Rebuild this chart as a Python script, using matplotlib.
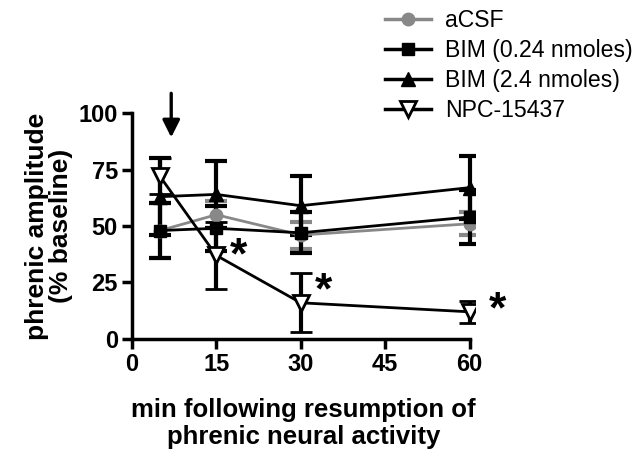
import matplotlib.pyplot as plt
from matplotlib.lines import Line2D

plt.rcParams['font.family'] = ['Liberation Sans', 'DejaVu Sans']

# time points (min)
minutes = [5, 15, 30, 60]

acsf = [48, 55, 46, 51]
acsf_err = [12, 6, 6, 5]
bim_low = [48, 49, 47, 54]
bim_low_err = [12, 10, 9, 12]
bim_high = [63, 64, 59, 67]
bim_high_err = [17, 15, 13, 14]
npc = [72, 37, 16, 12]
npc_err = [8, 15, 13, 5]

labels = ['aCSF', 'BIM (0.24 nmoles)', 'BIM (2.4 nmoles)', 'NPC-15437']
xticks = [0, 15, 30, 45, 60]
yticks = [0, 25, 50, 75, 100]

fig = plt.figure(figsize=(6.43, 4.58), dpi=100)
ax = fig.add_axes([0.205, 0.26, 0.534, 0.493])

styles = [
    (acsf, acsf_err, dict(color='#888888', marker='o', mfc='#888888', mec='#888888', ms=9)),
    (bim_low, bim_low_err, dict(color='black', marker='s', mfc='black', mec='black', ms=9)),
    (bim_high, bim_high_err, dict(color='black', marker='^', mfc='black', mec='black', ms=10)),
    (npc, npc_err, dict(color='black', marker='v', mfc='white', mec='black', mew=2, ms=11)),
]
handles = []
for (vals, err, st), lab in zip(styles, labels):
    ax.errorbar(minutes, vals, yerr=err, lw=2, elinewidth=3, capsize=8,
                capthick=3, **st)
    handles.append(Line2D([], [], lw=2.5, **st))

# significance stars
for x, y in [(19, 36.5), (34, 21), (65, 12.5)]:
    ax.text(x, y, '*', fontsize=32, fontweight='bold', ha='center', va='center',
            clip_on=False)

# injection arrow
ax.annotate('', xy=(7, 88), xytext=(7, 110),
            arrowprops=dict(arrowstyle='-|>', color='black', lw=2.4,
                            mutation_scale=26), annotation_clip=False)

ax.set_xlim(0, 61)
ax.set_ylim(0, 100)
ax.set_xticks(xticks)
ax.set_yticks(yticks)
for s in ['top', 'right']:
    ax.spines[s].set_visible(False)
for s in ['left', 'bottom']:
    ax.spines[s].set_linewidth(2.5)
ax.spines['bottom'].set_bounds(0, 60)
ax.tick_params(width=2.5, length=7, labelsize=17, pad=3)
for t in ax.get_xticklabels() + ax.get_yticklabels():
    t.set_fontweight('bold')

ax.set_ylabel('phrenic amplitude\n(% baseline)', fontsize=19, fontweight='bold',
              labelpad=4, linespacing=1.0)
ax.set_xlabel('min following resumption of\nphrenic neural activity', fontsize=18.5,
              fontweight='bold', labelpad=16, linespacing=1.15)

fig.legend(handles=handles, labels=labels, loc='upper left',
           bbox_to_anchor=(0.567, 1.025), frameon=False, fontsize=16.6,
           handlelength=2.0, labelspacing=0.3, handletextpad=0.6)

fig.savefig('out.png', dpi=100)
